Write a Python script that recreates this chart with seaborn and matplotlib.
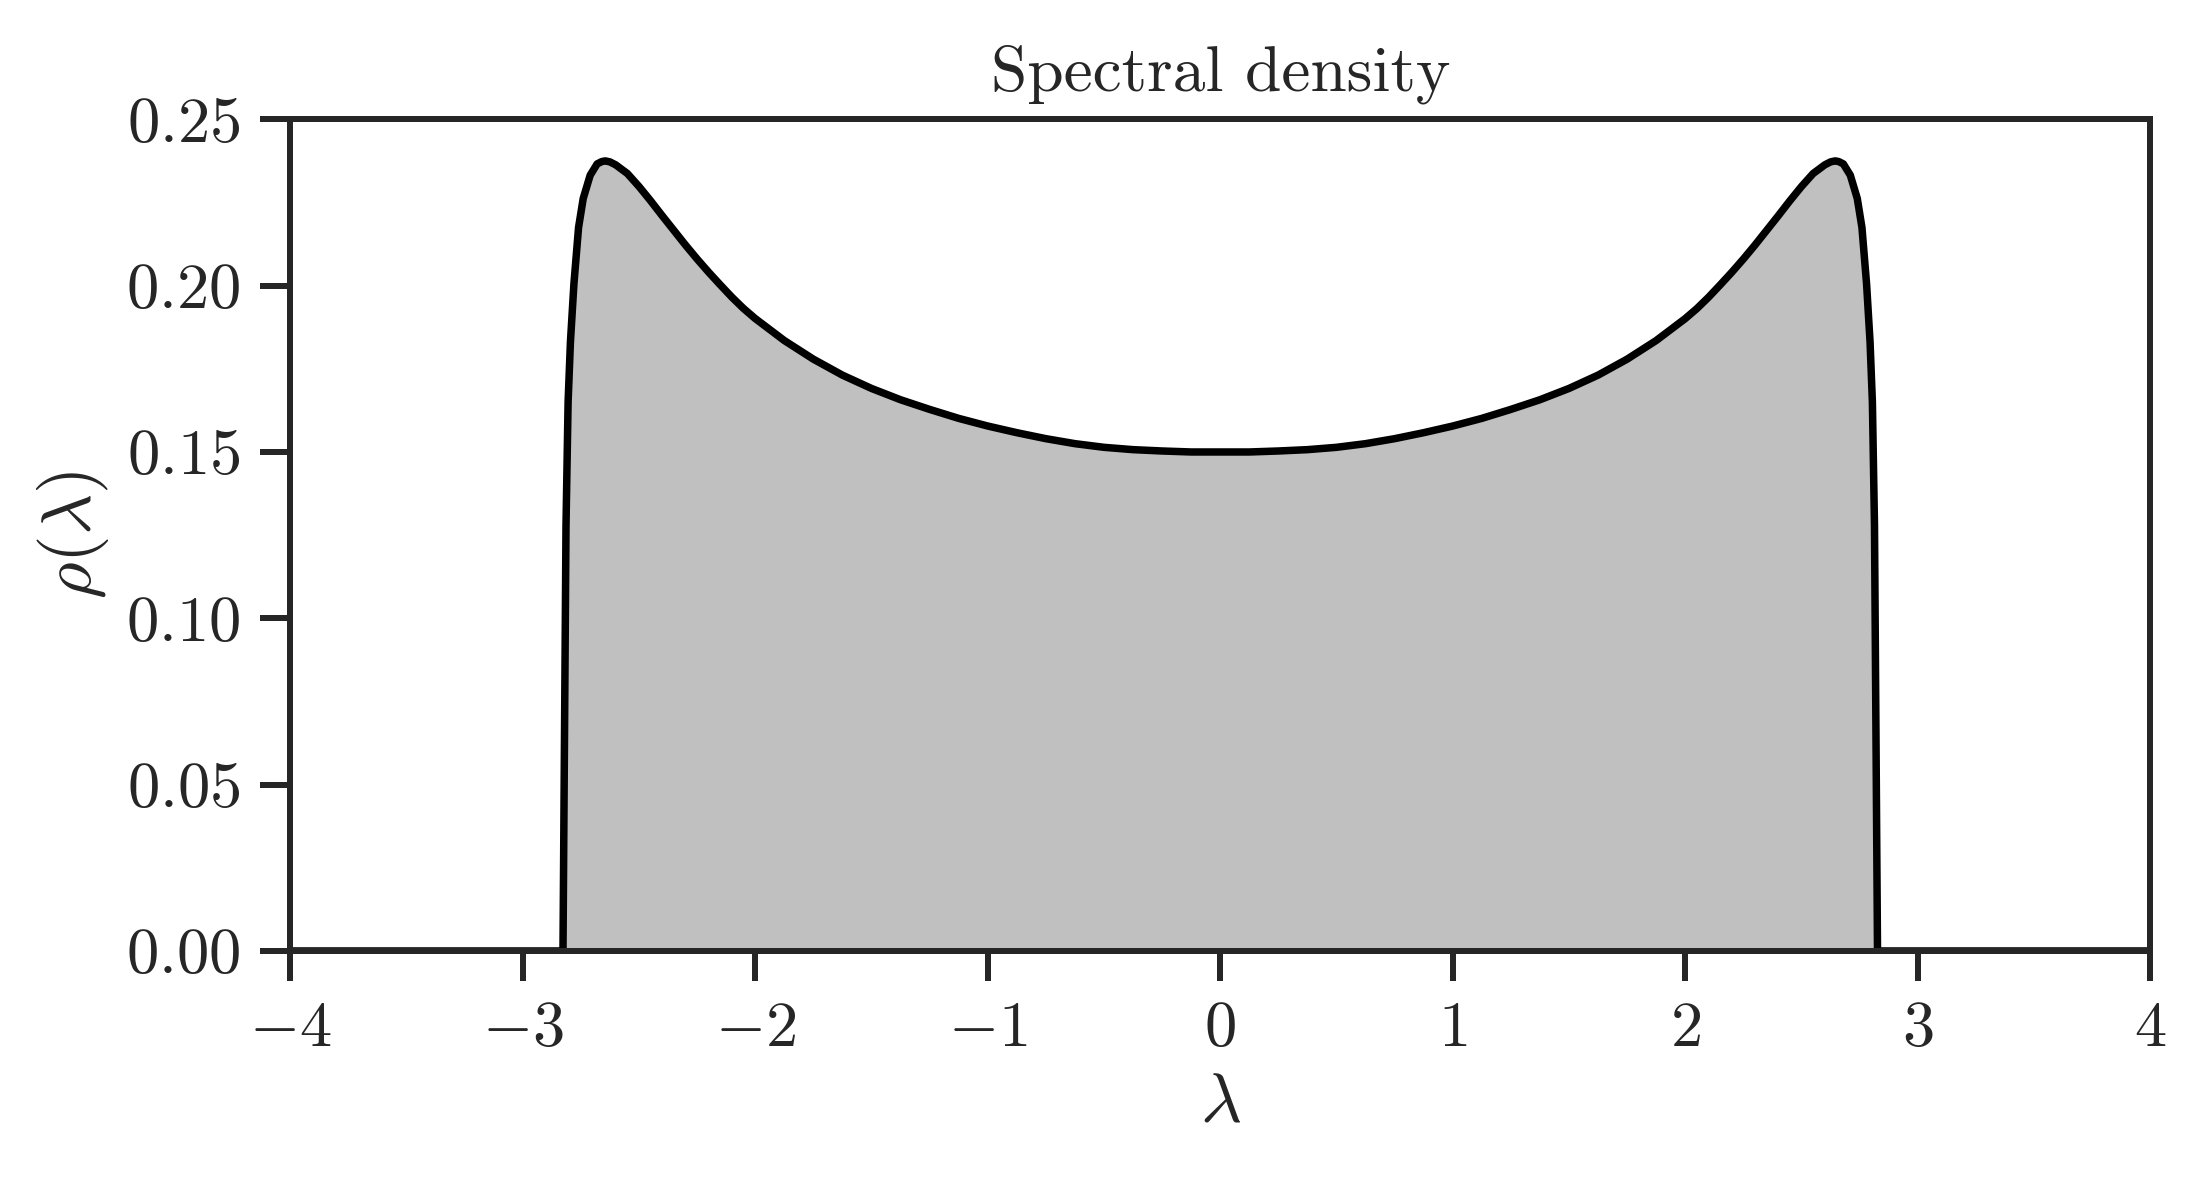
import numpy as np
import pandas as pd
import matplotlib
matplotlib.use("Agg")
import matplotlib.pyplot as plt
import seaborn as sns

# values (left half, centre, right half)
lam = [-4.0, -2.827, -2.814, -2.805, -2.795, -2.780, -2.760, -2.740, -2.710,
       -2.680, -2.660, -2.645, -2.625, -2.600, -2.550, -2.500, -2.450, -2.400,
       -2.350, -2.300, -2.250, -2.200, -2.150, -2.100, -2.050, -2.000, -1.875,
       -1.750, -1.625, -1.500, -1.375, -1.250, -1.125, -1.000, -0.875, -0.750,
       -0.625, -0.500, -0.375, -0.250, -0.125, 0.0,
       0.125, 0.250, 0.375, 0.500, 0.625, 0.750, 0.875, 1.000, 1.125, 1.250,
       1.375, 1.500, 1.625, 1.750, 1.875, 2.000, 2.050, 2.100, 2.150, 2.200,
       2.250, 2.300, 2.350, 2.400, 2.450, 2.500, 2.550, 2.600, 2.625, 2.645,
       2.660, 2.680, 2.710, 2.740, 2.760, 2.780, 2.795, 2.805, 2.814, 2.827,
       4.0]
rho = [0.0, 0.0, 0.1280, 0.1650, 0.1830, 0.2005, 0.2175, 0.2262, 0.2332,
       0.2366, 0.2373, 0.2375, 0.2372, 0.2363, 0.2337, 0.2298, 0.2255, 0.2210,
       0.2166, 0.2122, 0.2080, 0.2040, 0.2002, 0.1965, 0.1931, 0.1901, 0.1835,
       0.1779, 0.1731, 0.1691, 0.1657, 0.1628, 0.1601, 0.1578, 0.1558, 0.1540,
       0.1525, 0.1514, 0.1507, 0.1503, 0.1500, 0.1500,
       0.1500, 0.1503, 0.1507, 0.1514, 0.1525, 0.1540, 0.1558, 0.1578, 0.1601,
       0.1628, 0.1657, 0.1691, 0.1731, 0.1779, 0.1835, 0.1901, 0.1931, 0.1965,
       0.2002, 0.2040, 0.2080, 0.2122, 0.2166, 0.2210, 0.2255, 0.2298, 0.2337,
       0.2363, 0.2372, 0.2375, 0.2373, 0.2366, 0.2332, 0.2262, 0.2175, 0.2005,
       0.1830, 0.1650, 0.1280, 0.0, 0.0]

xticks = [-4, -3, -2, -1, 0, 1, 2, 3, 4]
yticks = [0.00, 0.05, 0.10, 0.15, 0.20, 0.25]

df = pd.DataFrame({"lam": lam, "rho": rho})

sns.set_theme(style="ticks")
ink = "#262626"
plt.rcParams["mathtext.fontset"] = "cm"
plt.rcParams["font.family"] = ["cmr10", "DejaVu Serif"]
plt.rcParams["axes.formatter.use_mathtext"] = True

fig = plt.figure(figsize=(2204 / 300, 1179 / 300), dpi=300)
ax = fig.add_axes([0.1317, 0.1934, 0.8439, 0.7054])

ax.fill_between(df["lam"], 0, df["rho"], color="silver", lw=0)
sns.lineplot(data=df, x="lam", y="rho", ax=ax, color="black", lw=1.8,
             estimator=None, sort=False)

ax.set_xlim(-4, 4)
ax.set_ylim(0, 0.25)
ax.set_xticks(xticks, labels=["$%d$" % t if t >= 0 else "$-%d$" % -t for t in xticks])
ax.set_yticks(yticks, labels=["$%.2f$" % t for t in yticks])
ax.tick_params(length=7.2, width=1.44, color=ink, labelcolor=ink,
               labelsize=15.5, pad=4.8)
for sp in ax.spines.values():
    sp.set_linewidth(1.44)
    sp.set_color(ink)

ax.set_title("Spectral density", fontsize=15.7, color=ink, pad=7)
ax.set_xlabel(r"$\lambda$", fontsize=17, color=ink, labelpad=3)
ax.set_ylabel(r"$\rho(\lambda)$", fontsize=17, color=ink, labelpad=3.5)

fig.savefig("out.png", dpi=300)
